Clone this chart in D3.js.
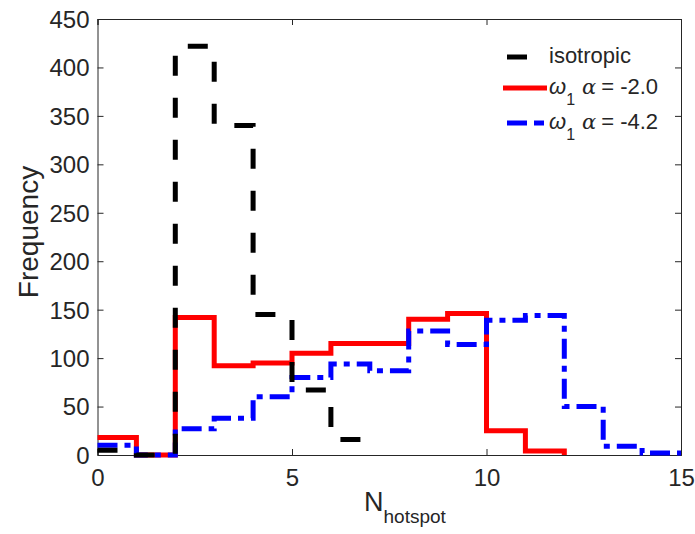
<!DOCTYPE html>
<html>
<head>
<meta charset="utf-8">
<script src="https://cdn.jsdelivr.net/npm/d3@7"></script>
<style>
  body { margin: 0; background: #fff; }
  svg { display: block; }
  text { font-family: "Liberation Sans", Arial, Helvetica, sans-serif; fill: #262626; }
</style>
</head>
<body>
<svg id="chart" width="695" height="534"></svg>
<script>
// Stairs data: value at x = 0,1,2,... (last point closes the final step)
const isotropic = [5, 0, 422, 340, 145, 67, 16, 8];
const omegaA20 = [18, 0, 142, 92, 95, 105, 115, 115, 140, 146, 25, 4, 0];
const omegaA42 = [10, 0, 27, 38, 60, 80, 94, 87, 128, 114, 139, 144, 50, 9, 2, 2];
const xTicks = [0, 5, 10, 15];
const yTicks = [0, 50, 100, 150, 200, 250, 300, 350, 400, 450];
const legendLabels = ["isotropic", "= -2.0", "= -4.2"];

const svg = d3.select("#chart");
const L = 97.5, R = 681, T = 19, B = 455;
const x = d3.scaleLinear().domain([0, 15]).range([L, R]);
const y = d3.scaleLinear().domain([0, 450]).range([B, T]);
const axisColor = "#262626";
const tickLen = 6;

// Axes (box)
const axG = svg.append("g");
const xAxis = d3.axisBottom(x).tickValues(xTicks).tickSize(-tickLen).tickPadding(14).tickFormat(d3.format("d"));
const yAxis = d3.axisLeft(y).tickValues(yTicks).tickSize(-tickLen).tickPadding(8).tickFormat(d3.format("d"));
const xTop = d3.axisTop(x).tickValues(xTicks).tickSize(-tickLen).tickFormat("");
const yRight = d3.axisRight(y).tickValues(yTicks).tickSize(-tickLen).tickFormat("");

function style(g) {
  g.select(".domain").attr("stroke", axisColor).attr("stroke-width", 1);
  g.selectAll(".tick line").attr("stroke", axisColor).attr("stroke-width", 1);
  g.selectAll(".tick text").attr("fill", axisColor).style("font-size", "24px")
    .style("font-family", '"Liberation Sans", Arial, sans-serif');
}
axG.append("g").attr("transform", `translate(0,${B})`).call(xAxis).call(style)
  .call(g => g.selectAll(".tick text").attr("dy", "0.71em"));
axG.append("g").attr("transform", `translate(${L},0)`).call(yAxis).call(style)
  .call(g => g.selectAll(".tick text").attr("dy", "0.35em"));
axG.append("g").attr("transform", `translate(0,${T})`).call(xTop).call(style);
axG.append("g").attr("transform", `translate(${R},0)`).call(yRight).call(style);

// Series
const line = d3.line().x((d, i) => x(i)).y(d => y(d)).curve(d3.curveStepAfter);
const plotG = svg.append("g").attr("fill", "none");
plotG.append("path").datum(omegaA20).attr("d", line)
  .attr("stroke", "#ff0000").attr("stroke-width", 5);
plotG.append("path").datum(omegaA42).attr("d", line)
  .attr("stroke", "#0000ff").attr("stroke-width", 5).attr("stroke-dasharray", "20,7,6,7");
plotG.append("path").datum(isotropic).attr("d", line)
  .attr("stroke", "#000000").attr("stroke-width", 5).attr("stroke-dasharray", "20,22");

// Axis labels
svg.append("text").attr("transform", "translate(38,232) rotate(-90)")
  .attr("text-anchor", "middle").style("font-size", "28px").text("Frequency");
const xl = svg.append("text").attr("x", 364).attr("y", 511).style("font-size", "27px");
xl.append("tspan").text("N");
xl.append("tspan").attr("dy", 12).style("font-size", "19px").text("hotspot");

// Legend
const lg = svg.append("g");
const legendItems = [
  { color: "#000", dash: "20,22", y: 57, sub: false },
  { color: "#ff0000", dash: null, y: 88, sub: true },
  { color: "#0000ff", dash: "20,7,10,7", y: 123, sub: true }
];
legendItems.forEach((it, i) => {
  const ln = lg.append("line").attr("x1", i === 1 ? 503 : 507).attr("x2", 547)
    .attr("y1", it.y).attr("y2", it.y).attr("stroke", it.color).attr("stroke-width", 5);
  if (it.dash) ln.attr("stroke-dasharray", it.dash);
  const t = lg.append("text").attr("x", 549).attr("y", it.y + 6).style("font-size", "22px");
  if (!it.sub) {
    t.text(legendLabels[i]);
  } else {
    t.append("tspan").style("font-style", "italic").text("ω");
    t.append("tspan").attr("dy", 11).style("font-size", "16px").text("1");
    t.append("tspan").attr("dy", -11).attr("x", 582).style("font-style", "italic")
      .style("font-family", '"DejaVu Serif", serif').style("font-size", "21px").text("α");
    t.append("tspan").attr("dx", 5).text(legendLabels[i]);
  }
});
</script>
</body>
</html>
